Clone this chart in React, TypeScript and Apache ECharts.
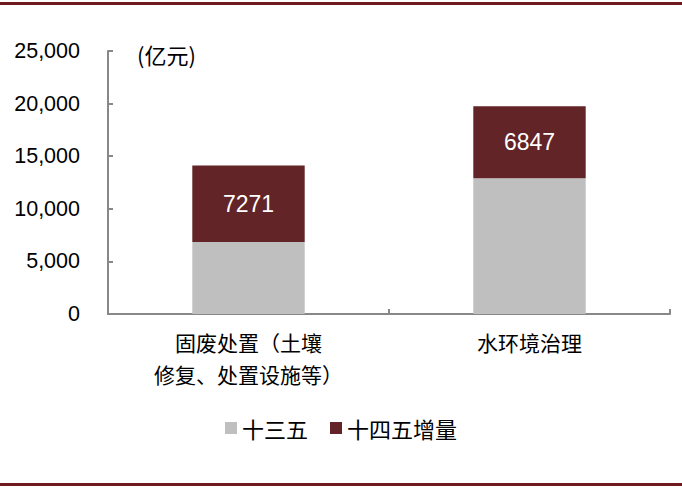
import React, { useEffect, useRef } from 'react';
import * as echarts from 'echarts';

const categories = ['固废处置（土壤\n修复、处置设施等）', '水环境治理'];
const base135 = [6850, 12900];
const incr145 = [7271, 6847];
const seriesNames = ['十三五', '十四五增量'];

const App: React.FC = () => {
  const chartRef = useRef<HTMLDivElement | null>(null);

  useEffect(() => {
    document.body.style.margin = '0';
    if (!chartRef.current) return;
    const myChart = echarts.init(chartRef.current, undefined, { renderer: 'svg' });

    const option = {
      animation: false,
      backgroundColor: '#fff',
      color: ['#C0BFC0', '#622426'],
      grid: { left: 108, right: 12, top: 51, bottom: 176 },
      legend: {
        bottom: 46,
        left: 'center',
        itemWidth: 12,
        itemHeight: 12,
        itemGap: 22,
        icon: 'rect',
        textStyle: { fontSize: 22, color: '#000', fontFamily: 'Noto Sans CJK SC' },
        data: seriesNames,
      },
      graphic: [
        { type: 'rect', left: 0, top: 2, shape: { width: 682, height: 3 }, style: { fill: '#6E1A1F' } },
        { type: 'rect', left: 0, top: 483, shape: { width: 682, height: 3 }, style: { fill: '#6E1A1F' } },
        {
          type: 'text',
          left: 137,
          top: 43,
          style: { text: '(亿元)', fontSize: 22, fill: '#000', fontFamily: 'Noto Sans CJK SC' },
        },
      ],
      xAxis: {
        type: 'category',
        data: categories,
        axisLine: { lineStyle: { color: '#888', width: 2 } },
        axisTick: { show: true, inside: true, length: 5, lineStyle: { color: '#888', width: 2 } },
        axisLabel: {
          fontSize: 21,
          color: '#000',
          margin: 12,
          lineHeight: 32,
          fontFamily: 'Noto Sans CJK SC',
          interval: 0,
        },
      },
      yAxis: {
        type: 'value',
        min: 0,
        max: 25000,
        interval: 5000,
        splitLine: { show: false },
        axisLine: { show: true, lineStyle: { color: '#888', width: 2 } },
        axisTick: { show: true, inside: true, length: 5, lineStyle: { color: '#888', width: 2 } },
        axisLabel: {
          fontSize: 21.5,
          color: '#000',
          margin: 28,
          fontFamily: 'Liberation Sans',
          formatter: (v: number) => v.toLocaleString('en-US'),
        },
      },
      series: [
        {
          name: seriesNames[0],
          type: 'bar',
          stack: 'total',
          barWidth: '40%',
          data: base135,
        },
        {
          name: seriesNames[1],
          type: 'bar',
          stack: 'total',
          data: incr145,
          label: {
            show: true,
            position: 'inside',
            color: '#fff',
            fontSize: 23,
            fontFamily: 'Liberation Sans',
          },
        },
      ],
    };

    myChart.setOption(option);
    return () => {
      myChart.dispose();
    };
  }, []);

  return <div ref={chartRef} style={{ width: 682, height: 490 }}></div>;
};

export default App;
